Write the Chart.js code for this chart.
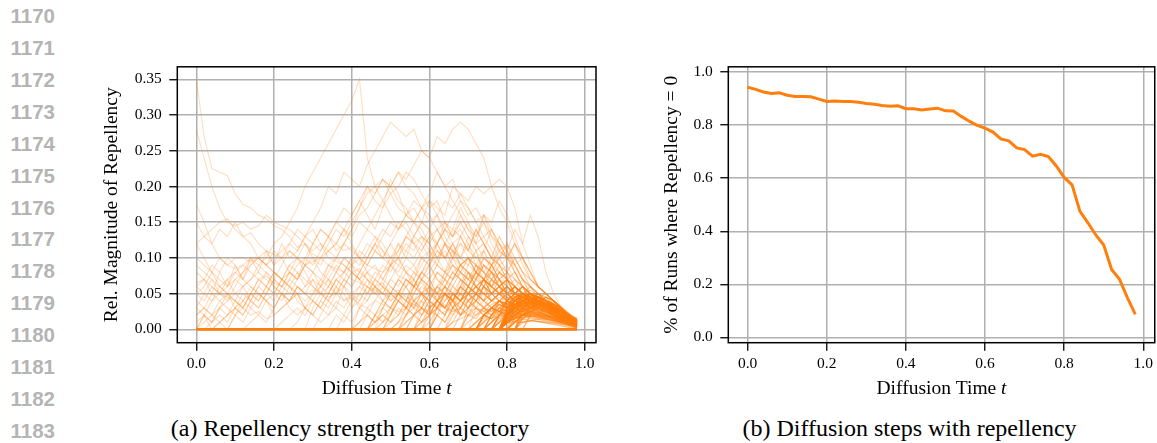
<!DOCTYPE html>
<html>
<head>
<meta charset="utf-8">
<script src="https://cdn.jsdelivr.net/npm/chart.js@4.4.1/dist/chart.umd.min.js"></script>
<style>
  body { margin: 0; width: 1157px; height: 443px; background: #fff; position: relative; overflow: hidden; }
  .ln { position: absolute; left: 0; width: 55px; text-align: right; font: bold 20.5px "Liberation Sans", Arial, sans-serif; line-height: 20.5px; color: #b4b4b4; }
  .cap { position: absolute; width: 500px; text-align: center; font: 24px "Liberation Serif", serif; line-height: 24px; color: #000; }
  canvas { position: absolute; }
</style>
</head>
<body>
<canvas id="left" width="520" height="360" style="left:90px; top:50px"></canvas>
<canvas id="right" width="517" height="360" style="left:640px; top:50px"></canvas>
<div class="cap" style="left:100px; top:416px">(a) Repellency strength per trajectory</div>
<div class="cap" style="left:659.5px; top:416px">(b) Diffusion steps with repellency</div>
<script>
// diffusion time grid shared by both panels
const times = [0.00, 0.02, 0.04, 0.06, 0.08, 0.10, 0.12, 0.14, 0.16, 0.18,
               0.20, 0.22, 0.24, 0.26, 0.28, 0.30, 0.32, 0.34, 0.36, 0.38,
               0.40, 0.42, 0.44, 0.46, 0.48, 0.50, 0.52, 0.54, 0.56, 0.58,
               0.60, 0.62, 0.64, 0.66, 0.68, 0.70, 0.72, 0.74, 0.76, 0.78,
               0.80, 0.82, 0.84, 0.86, 0.88, 0.90, 0.92, 0.94, 0.96, 0.98];

const xTicks = [0, 0.2, 0.4, 0.6, 0.8, 1.0];
const leftYTicks = [0, 0.05, 0.10, 0.15, 0.20, 0.25, 0.30, 0.35];
const rightYTicks = [0, 0.2, 0.4, 0.6, 0.8, 1.0];
const lineNumbers = [1170, 1171, 1172, 1173, 1174, 1175, 1176, 1177, 1178, 1179, 1180, 1181, 1182, 1183];

// runs whose repellency stays at 0 the whole time
const zeroRuns = [0, 0, 0, 0, 0, 0, 0, 0, 0, 0, 0, 0, 0, 0, 0, 0, 0, 0, 0, 0, 0, 0, 0, 0, 0,
                  0, 0, 0, 0, 0, 0, 0, 0, 0, 0, 0, 0, 0, 0, 0, 0, 0, 0, 0, 0, 0, 0, 0, 0, 0];

// every run ends at t = 0.98; shorter lists start later
const earlyRuns = [
  [.35,.27,.225,.22,.215,.19,.175,.17,.16,.155,.145,.14,.13,.115,.12,.105,.1,.09,.085,.08,.07,.065,.06,.055,.05,.045,.05,.04,.035,.04,.03,.035,.03,.025,.03,.02,.025,.03,.02,.025,.02,.03,.025,.02,.015,.02,.015,.012,.01,.008],
  [.28,.24,.2,.17,.15,.145,.15,.14,.145,.16,.15,.145,.14,.13,.12,.11,.12,.1,.095,.09,.08,.085,.07,.06,.065,.05,.055,.045,.04,.05,.04,.03,.035,.025,.03,.02,.02,.025,.02,.015,.02,.015,.02,.025,.02,.015,.012,.01,.008,.006],
  [.175,.15,.12,.1,.09,.085,.09,.08,.07,.075,.065,.06,.07,.06,.05,.055,.05,.045,.05,.04,.045,.035,.03,.04,.035,.03,.025,.03,.035,.03,.025,.02,.025,.03,.02,.025,.03,.02,.015,.02,.025,.03,.025,.02,.03,.02,.015,.012,.01,.008],
  [.12,.13,.14,.15,.155,.14,.13,.135,.12,.11,.105,.1,.11,.1,.09,.095,.1,.11,.12,.11,.115,.1,.09,.085,.08,.09,.075,.07,.06,.065,.05,.045,.05,.04,.035,.04,.03,.025,.03,.035,.03,.025,.02,.025,.02,.015,.012,.01,.008,.006],
  [.02,.03,.02,.04,.05,.04,.06,.07,.09,.1,.12,.13,.15,.17,.2,.22,.24,.26,.28,.3,.32,.35,.24,.2,.21,.19,.17,.16,.15,.13,.12,.1,.11,.09,.08,.07,.075,.06,.05,.055,.045,.04,.03,.035,.025,.02,.015,.012,.01,.008],
  [.05,.04,.06,.05,.07,.08,.07,.09,.1,.09,.11,.1,.12,.14,.13,.15,.17,.2,.19,.22,.21,.2,.23,.25,.27,.29,.28,.27,.28,.25,.24,.22,.2,.21,.18,.16,.17,.15,.13,.12,.1,.09,.07,.06,.05,.04,.03,.02,.012,.008],
  [.01,.02,.01,.03,.02,.04,.03,.05,.04,.06,.05,.07,.08,.07,.09,.1,.09,.11,.12,.14,.13,.15,.14,.16,.18,.2,.22,.21,.23,.25,.24,.27,.26,.28,.29,.28,.26,.24,.2,.17,.15,.12,.1,.08,.06,.05,.04,.025,.015,.008],
  [.06,.07,.05,.08,.06,.09,.07,.1,.08,.11,.09,.12,.1,.11,.13,.12,.14,.13,.15,.17,.16,.18,.2,.19,.21,.2,.22,.2,.19,.17,.18,.16,.18,.17,.19,.18,.2,.19,.2,.21,.2,.17,.12,.09,.06,.05,.04,.03,.015,.01],
  [.06,.05,.04,.06,.05,.03,.04,.05,.07,.06,.08,.07,.09,.08,.06,.07,.05,.06,.08,.1,.09,.11,.1,.12,.1,.09,.11,.13,.12,.1,.11,.09,.08,.1,.09,.07,.08,.06,.07,.05,.06,.05,.04,.05,.04,.03,.025,.02,.012,.006],
  [.1,.09,.08,.1,.09,.1,.1,.095,.1,.09,.08,.07,.06,.05,.04,.05,.06,.05,.07,.08,.09,.1,.12,.11,.13,.15,.14,.16,.18,.17,.15,.16,.14,.12,.13,.11,.1,.09,.08,.06,.07,.05,.06,.04,.05,.035,.03,.02,.01,.005],
  [.065,.07,.06,.05,.045,.04,.03,.02,.025,.015,.02,.03,.04,.05,.06,.08,.07,.09,.1,.12,.11,.1,.08,.09,.07,.06,.05,.07,.06,.08,.09,.07,.06,.05,.04,.05,.06,.05,.04,.05,.04,.045,.035,.04,.03,.025,.02,.015,.01,.006],
  [0,.02,.04,.05,.06,.07,.08,.09,.1,.09,.1,.11,.12,.11,.13,.14,.12,.11,.1,.09,.08,.07,.08,.06,.05,.04,.05,.03,.04,.02,.03,.04,.03,.02,.03,.04,.05,.04,.03,.04,.05,.04,.03,.035,.025,.02,.015,.012,.008,.005],
  [.03,.05,.07,.06,.05,.07,.06,.04,.03,.05,.04,.06,.05,.07,.09,.08,.1,.12,.14,.13,.15,.17,.2,.18,.17,.19,.2,.22,.21,.19,.17,.18,.15,.13,.14,.12,.1,.11,.09,.07,.08,.06,.05,.045,.04,.03,.025,.015,.01,.006],
  [.09,.08,.07,.05,.04,.06,.08,.1,.09,.08,.06,.05,.03,.02,.03,.05,.07,.06,.08,.07,.06,.08,.1,.12,.14,.13,.15,.14,.12,.13,.11,.12,.1,.08,.09,.1,.08,.07,.06,.05,.06,.05,.04,.035,.04,.03,.02,.015,.01,.005],
  [0,0,.01,.02,.01,.03,.02,.04,.03,.05,.07,.06,.08,.07,.1,.09,.11,.13,.12,.14,.12,.1,.09,.11,.1,.12,.14,.16,.17,.15,.18,.17,.16,.2,.19,.17,.15,.16,.13,.11,.1,.08,.06,.05,.04,.03,.025,.02,.012,.007],
  [.04,.03,.02,.03,.04,.05,.06,.07,.08,.07,.06,.05,.04,.05,.03,.04,.06,.08,.1,.12,.14,.16,.17,.19,.21,.2,.18,.17,.15,.17,.16,.14,.12,.14,.13,.15,.12,.1,.09,.08,.07,.06,.07,.05,.04,.035,.03,.02,.012,.006],
  [0,0,0,.01,0,.02,.01,.03,.02,.01,.03,.05,.04,.06,.05,.07,.06,.09,.08,.1,.09,.07,.06,.08,.07,.09,.1,.12,.11,.13,.12,.14,.15,.13,.16,.14,.13,.15,.12,.1,.11,.08,.07,.05,.04,.03,.02,.015,.01,.005],
  [.02,.03,.05,.04,.03,.02,.04,.06,.05,.04,.03,.05,.07,.09,.1,.12,.11,.13,.15,.14,.16,.18,.16,.14,.17,.21,.19,.16,.15,.17,.19,.22,.2,.18,.16,.14,.12,.13,.11,.09,.1,.08,.06,.05,.04,.035,.025,.02,.01,.005],
  [.12,.1,.08,.06,.07,.05,.04,.03,.05,.04,.02,.03,.04,.06,.05,.04,.03,.02,.04,.03,.05,.04,.06,.05,.07,.09,.08,.1,.09,.11,.13,.12,.14,.16,.18,.17,.15,.13,.14,.12,.1,.09,.07,.06,.05,.04,.03,.02,.012,.008],
  [0,.01,.02,.01,.02,.03,.02,.04,.06,.08,.07,.09,.11,.1,.12,.1,.08,.07,.09,.08,.1,.12,.14,.13,.11,.1,.12,.11,.13,.15,.14,.12,.1,.11,.09,.1,.08,.09,.07,.08,.06,.07,.05,.06,.045,.035,.03,.02,.012,.007],
  [0,.02,.01,.03,.05,.04,.03,.05,.07,.06,.05,.04,.06,.05,.03,.02,.04,.03,.05,.07,.06,.08,.07,.05,.06,.04,.05,.06,.07,.05,.06,.04,.05,.03,.04,.05,.04,.03,.04,.035,.04,.03,.035,.03,.025,.02,.015,.01,.006,.004],
  [.15,.13,.12,.14,.13,.15,.13,.12,.1,.11,.09,.1,.08,.07,.09,.08,.06,.07,.05,.06,.04,.05,.07,.06,.08,.1,.09,.11,.1,.12,.1,.09,.08,.07,.08,.06,.05,.06,.05,.04,.045,.035,.04,.03,.025,.02,.015,.01,.006,.004],
  [.05,.06,.08,.07,.06,.08,.09,.1,.1,.09,.08,.07,.06,.04,.03,.02,.01,.02,.03,.02,.04,.06,.05,.07,.09,.08,.1,.13,.12,.11,.13,.14,.12,.11,.1,.12,.09,.08,.07,.06,.05,.06,.05,.04,.035,.03,.02,.014,.008,.004],
  [.03,.02,0,.01,.02,.03,.05,.04,.06,.05,.07,.06,.08,.1,.09,.12,.14,.13,.11,.12,.14,.17,.19,.2,.18,.16,.14,.15,.13,.12,.14,.11,.1,.12,.09,.1,.08,.07,.06,.05,.06,.05,.04,.045,.035,.03,.022,.015,.008,.004],
  [.08,.07,.09,.08,.1,.09,.07,.06,.05,.04,.05,.07,.06,.08,.07,.06,.05,.04,.06,.05,.03,.04,.06,.05,.04,.06,.05,.07,.06,.08,.07,.05,.06,.04,.05,.04,.05,.04,.03,.04,.035,.03,.035,.03,.025,.02,.015,.01,.006,.004]
];

const midRuns = [
  [0,.02,.04,.03,.06,.08,.07,.09,.11,.1,.12,.1,.08,.09,.07,.08,.1,.12,.11,.09,.08,.06,.07,.05,.06,.05,.04,.05,.04,.03,.035,.025,.02,.012,.006],
  [0,.03,.05,.07,.06,.09,.12,.1,.13,.15,.14,.16,.13,.11,.12,.1,.09,.11,.08,.07,.06,.05,.06,.04,.045,.035,.03,.02,.012,.007],
  [0,.01,.02,.03,.02,.04,.03,.05,.07,.06,.08,.07,.05,.06,.04,.05,.07,.09,.08,.1,.09,.07,.06,.08,.07,.05,.06,.04,.05,.06,.05,.04,.05,.04,.035,.03,.022,.015,.009,.005],
  [0,.02,.05,.04,.07,.1,.09,.12,.15,.14,.17,.15,.13,.16,.14,.11,.12,.09,.1,.07,.06,.05,.04,.025,.015,.008],
  [0,.02,.01,.03,.05,.04,.06,.05,.07,.09,.08,.06,.07,.05,.06,.08,.07,.09,.1,.08,.07,.06,.05,.06,.045,.05,.04,.035,.03,.02,.014,.009,.005],
  [0,.03,.06,.05,.08,.11,.1,.13,.12,.16,.15,.18,.16,.13,.1,.08,.06,.05,.04,.03,.018,.009],
  [0,.01,.03,.02,.04,.06,.05,.07,.09,.08,.1,.12,.11,.09,.1,.08,.07,.09,.11,.1,.12,.1,.08,.07,.06,.07,.05,.06,.05,.04,.05,.045,.04,.03,.022,.014,.008,.004],
  [0,.02,.04,.03,.05,.04,.06,.08,.07,.05,.06,.04,.05,.07,.06,.05,.04,.05,.045,.04,.05,.04,.035,.03,.022,.015,.009,.005],
  [0,.03,.06,.09,.08,.11,.14,.12,.1,.12,.09,.07,.06,.05,.04,.025,.014,.007],
  [0,.01,.02,.04,.03,.05,.04,.06,.05,.04,.03,.05,.07,.06,.05,.06,.08,.07,.06,.05,.07,.06,.04,.05,.03,.04,.05,.04,.06,.05,.04,.05,.04,.045,.04,.035,.04,.03,.035,.028,.02,.013,.008,.004],
  [0,.02,.04,.06,.05,.08,.07,.1,.12,.11,.14,.12,.1,.08,.09,.07,.06,.05,.045,.04,.03,.02,.012,.006],
  [0,.03,.05,.04,.06,.08,.1,.09,.11,.13,.12,.1,.11,.13,.15,.14,.12,.1,.08,.09,.07,.06,.05,.06,.04,.05,.045,.04,.035,.04,.03,.025,.018,.012,.007,.004],
  [0,.02,.05,.04,.07,.06,.09,.08,.1,.09,.07,.06,.05,.045,.04,.035,.028,.02,.012,.006],
  [0,.03,.06,.09,.12,.11,.14,.12,.16,.13,.08,.05,.03,.015,.008],
  [0,.02,.03,.05,.04,.06,.08,.07,.09,.1,.08,.06,.05,.07,.06,.04,.05,.03,.04,.06,.05,.07,.06,.08,.07,.05,.06,.04,.05,.03,.04,.05,.04,.03,.04,.035,.03,.04,.035,.03,.025,.02,.014,.01,.006,.004],
  [0,.01,.03,.02,.04,.03,.05,.04,.06,.05,.04,.06,.07,.05,.06,.04,.05,.03,.04,.05,.04,.03,.04,.05,.04,.035,.03,.02,.012,.006],
  [0,.02,.01,.03,.02,.04,.06,.05,.07,.06,.04,.05,.03,.04,.06,.05,.07,.06,.05,.04,.05,.04,.03,.04,.035,.03,.04,.03,.025,.02,.014,.008],
  [0,.01,.02,.04,.03,.02,.03,.05,.04,.03,.05,.07,.06,.08,.07,.05,.04,.06,.05,.045,.04,.035,.03,.02,.011],
  [0,.03,.02,.04,.05,.03,.04,.02,.03,.05,.04,.06,.05,.07,.06,.04,.05,.03,.04,.03,.035,.04,.045,.04,.03,.02,.01],
  [0,.01,.02,.01,.03,.02,.04,.03,.02,.04,.05,.03,.04,.06,.05,.04,.03,.04,.05,.04,.03,.035,.04,.035,.03,.025,.018,.009],
  [0,.02,.04,.06,.05,.07,.09,.08,.06,.07,.05,.06,.04,.05,.03,.04,.045,.04,.035,.03,.02,.012],
  [0,.01,.02,.03,.02,.01,.02,.04,.03,.05,.04,.03,.02,.03,.04,.05,.04,.06,.05,.04,.05,.045,.04,.03,.02,.01],
  [0,.02,.03,.05,.04,.03,.05,.07,.06,.05,.03,.04,.02,.03,.04,.03,.05,.04,.03,.04,.05,.045,.04,.038,.03,.022,.013,.007],
  [0,.01,.03,.02,.04,.06,.05,.08,.07,.1,.09,.07,.08,.06,.05,.04,.05,.04,.035,.03,.022,.012],
  [0,.02,.01,.02,.03,.02,.04,.03,.05,.04,.03,.04,.05,.04,.05,.06,.05,.04,.05,.04,.03,.04,.035,.045,.04,.035,.025,.015,.007],
  [0,.03,.05,.04,.06,.05,.03,.04,.06,.08,.07,.05,.06,.04,.05,.04,.045,.04,.03,.02,.01],
  [0,.01,.02,.01,.02,.04,.03,.02,.04,.03,.05,.04,.06,.05,.03,.04,.05,.06,.05,.04,.035,.04,.03,.035,.028,.02,.013,.006],
  [0,.02,.04,.03,.05,.04,.02,.03,.05,.04,.06,.05,.07,.06,.04,.05,.045,.05,.04,.032,.022,.012],
  [0,.01,.02,.03,.05,.04,.03,.04,.02,.03,.04,.03,.02,.03,.04,.05,.04,.03,.04,.045,.04,.03,.02,.01],
  [0,.02,.01,.03,.04,.06,.05,.04,.06,.05,.07,.06,.08,.07,.06,.05,.06,.045,.05,.04,.03,.02,.011]
];

const lateRuns = [
  [0,.01,.02,.015,.03,.025,.04,.035,.045,.04,.035,.03,.02,.012,.006],
  [0,.02,.01,.03,.05,.04,.06,.05,.04,.05,.06,.045,.05,.04,.045,.035,.03,.02,.015,.008],
  [0,.01,.03,.02,.04,.05,.045,.04,.038,.03,.02,.01],
  [0,.01,.03,.02,.04,.06,.05,.07,.06,.08,.07,.09,.08,.06,.07,.05,.06,.05,.045,.04,.035,.03,.022,.014,.007],
  [0,.02,.04,.03,.05,.07,.06,.05,.04,.06,.05,.04,.045,.04,.03,.025,.015,.009],
  [0,.015,.03,.025,.04,.035,.03,.022,.015,.008],
  [0,.01,.02,.04,.03,.05,.04,.06,.08,.07,.09,.1,.08,.07,.06,.05,.045,.04,.03,.02,.012,.006],
  [0,.02,.015,.03,.04,.03,.05,.045,.04,.035,.03,.025,.018,.01],
  [0,.01,.02,.01,.03,.05,.04,.06,.08,.07,.09,.11,.1,.12,.1,.09,.11,.08,.07,.06,.07,.05,.06,.04,.045,.035,.03,.02,.012,.007],
  [0,.01,.02,.03,.025,.035,.03,.045,.04,.05,.045,.04,.032,.025,.015,.008],
  [0,.03,.02,.04,.06,.05,.07,.09,.08,.1,.12,.1,.08,.06,.05,.04,.035,.025,.016,.009],
  [0,.01,.02,.03,.035,.03,.04,.035,.03,.022,.014,.006],
  [0,.02,.04,.03,.06,.05,.07,.09,.12,.1,.13,.11,.14,.12,.1,.13,.11,.09,.07,.06,.05,.04,.03,.02,.012,.006],
  [0,.02,.03,.04,.035,.03,.02,.014,.007],
  [0,.01,.015,.02,.03,.025,.035,.04,.03,.045,.05,.04,.042,.038,.03,.022,.014,.008],
  [0,.02,.03,.05,.04,.06,.05,.07,.09,.08,.06,.07,.05,.06,.04,.05,.045,.04,.035,.03,.025,.018,.011,.005],
  [0,.01,.02,.02,.03,.04,.035,.045,.04,.035,.025,.016,.01],
  [0,.02,.01,.03,.05,.07,.06,.08,.1,.12,.14,.13,.15,.13,.11,.12,.1,.09,.07,.08,.06,.05,.045,.04,.03,.02,.012,.006],
  [0,.015,.025,.02,.03,.04,.035,.03,.024,.016,.01],
  [0,.02,.04,.05,.07,.06,.08,.07,.06,.05,.055,.045,.04,.03,.022,.015,.008],
  [0,.01,.03,.02,.04,.03,.05,.06,.05,.07,.06,.05,.04,.05,.045,.04,.034,.028,.02,.013,.007],
  [0,.02,.035,.03,.025,.018,.012,.006],
  [0,.02,.05,.04,.06,.08,.07,.09,.11,.1,.12,.1,.08,.06,.05,.04,.03,.018,.01],
  [0,.01,.02,.015,.025,.03,.035,.03,.04,.045,.04,.032,.024,.015,.009],
  [0,.02,.03,.02,.04,.03,.05,.04,.06,.05,.07,.06,.05,.06,.05,.045,.05,.04,.035,.028,.02,.012,.006],
  [0,.02,.04,.03,.05,.045,.04,.045,.035,.028,.018,.01],
  [0,.03,.05,.04,.07,.09,.08,.1,.08,.07,.06,.05,.04,.03,.018,.009],
  [0,.01,.02,.035,.03,.04,.03,.025,.017,.01],
  [0,.01,.02,.04,.03,.05,.07,.06,.08,.07,.09,.08,.1,.09,.07,.08,.06,.07,.05,.06,.045,.05,.04,.03,.02,.012,.005],
  [0,.015,.03,.025,.04,.05,.045,.05,.045,.04,.035,.025,.016,.008],
  [0,.02,.01,.03,.02,.04,.03,.02,.03,.04,.03,.035,.03,.04,.035,.03,.025,.018,.012,.006],
  [0,.02,.03,.025,.035,.04,.038,.033,.025,.017,.011],
  [0,.01,.03,.05,.04,.06,.05,.04,.05,.06,.05,.048,.044,.04,.03,.02,.012,.007],
  [0,.015,.025,.03,.028,.025,.02,.013,.008],
  [0,.01,.02,.03,.05,.04,.06,.08,.07,.06,.08,.1,.09,.07,.05,.06,.05,.045,.04,.035,.028,.02,.012,.006],
  [0,.02,.03,.04,.05,.045,.05,.045,.04,.032,.024,.015,.009],
  [0,.02,.04,.06,.05,.07,.06,.05,.06,.05,.04,.035,.03,.02,.012,.006],
  [0,.01,.02,.025,.03,.035,.03,.022,.015,.009],
  [0,.02,.03,.05,.04,.06,.08,.07,.09,.08,.06,.07,.05,.06,.05,.04,.035,.03,.02,.012,.007],
  [0,.02,.04,.035,.045,.05,.044,.04,.035,.026,.017,.01],
  [0,.02,.03,.045,.04,.05,.04,.035,.03,.022,.013],
  [0,.01,.025,.02,.035,.04,.045,.04,.042,.036,.03,.02,.012],
  [0,.03,.04,.035,.045,.04,.03,.02,.01],
  [0,.01,.02,.03,.025,.04,.035,.03,.04,.045,.04,.035,.026,.017,.008],
  [0,.02,.04,.03,.035,.028,.02,.011],
  [0,.015,.03,.04,.05,.045,.04,.036,.03,.024,.016,.009],
  [0,.02,.03,.025,.035,.045,.04,.048,.044,.038,.03,.02,.012,.004],
  [0,.01,.02,.015,.025,.02,.03,.028,.022,.015,.008],
  [0,.02,.04,.05,.045,.04,.045,.04,.035,.028,.02,.013],
  [0,.01,.03,.025,.02,.03,.04,.035,.04,.033,.025,.017,.01,.003],
  [0,.025,.04,.035,.03,.025,.02,.014,.007],
  [0,.02,.03,.04,.035,.045,.05,.045,.04,.035,.03,.022,.015,.01],
  [0,.01,.015,.025,.02,.03,.035,.03,.025,.018,.011,.005],
  [0,.03,.05,.045,.04,.05,.045,.04,.03,.02,.012],
  [0,.02,.015,.03,.025,.04,.035,.045,.04,.03,.036,.03,.024,.016,.008,.002],
  [0,.01,.02,.03,.04,.036,.03,.022,.014,.006],
  [0,.02,.035,.03,.04,.045,.04,.035,.038,.032,.025,.018,.011],
  [0,.015,.02,.03,.025,.035,.03,.026,.02,.012,.004],
  [0,.02,.04,.035,.03,.04,.045,.04,.034,.028,.02,.013,.007],
  [0,.01,.025,.04,.05,.046,.04,.032,.024,.015,.008],
  [0,.02,.03,.02,.03,.035,.03,.025,.03,.026,.02,.015,.009,.003],
  [0,.03,.045,.04,.035,.03,.024,.016,.01],
  [0,.01,.02,.03,.04,.035,.042,.038,.034,.03,.022,.014,.006],
  [0,.02,.03,.04,.03,.025,.035,.04,.036,.03,.024,.018,.012,.005],
  [0,.015,.03,.045,.04,.035,.028,.02,.012],
  [0,.01,.02,.018,.028,.025,.032,.03,.026,.02,.014,.008,.002],
  [0,.02,.03,.025,.04,.05,.045,.04,.045,.04,.033,.026,.018,.01],
  [0,.02,.03,.035,.032,.028,.02,.013,.006],
  [0,.01,.02,.035,.03,.04,.045,.04,.042,.036,.028,.02,.012,.005],
  [0,.025,.04,.038,.045,.04,.036,.03,.022,.014,.007],
  [0,.01,.02,.03,.025,.035,.04,.035,.03,.026,.02,.013,.006,.002],
  [0,.02,.04,.035,.042,.048,.045,.04,.035,.03,.022,.015,.009],
  [0,.015,.025,.03,.04,.036,.032,.026,.02,.013,.007],
  [0,.02,.035,.03,.04,.035,.038,.032,.026,.019,.012,.004],
  [0,.03,.04,.05,.044,.04,.035,.028,.02,.012],
  [0,.01,.02,.025,.035,.03,.04,.036,.031,.025,.018,.011,.005],
  [0,.02,.03,.045,.04,.035,.04,.034,.028,.021,.014,.008],
  [0,.015,.03,.028,.035,.03,.025,.018,.01,.003],
  [0,.02,.04,.045,.05,.045,.04,.034,.027,.02,.012],
  [0,.01,.025,.03,.04,.038,.033,.027,.02,.014,.007,.002]
];

// the last stretch where most runs still repel a little
const tailRuns = [
  [0,.02,.035,.04,.038,.034,.03,.026,.021,.017,.013],
  [0,.015,.03,.028,.032,.03,.027,.024,.02,.016,.012],
  [0,.01,.02,.025,.03,.027,.024,.02,.017,.014,.011],
  [0,.02,.03,.04,.045,.04,.036,.031,.026,.021,.015],
  [0,.01,.015,.02,.022,.02,.018,.016,.014,.012,.01],
  [0,.025,.04,.045,.042,.038,.033,.028,.022,.017,.012],
  [0,.01,.02,.018,.02,.018,.016,.013,.011,.009],
  [0,.02,.03,.035,.033,.03,.026,.022,.018,.014,.011],
  [0,.015,.025,.03,.035,.032,.028,.024,.019,.015,.01],
  [0,.01,.012,.015,.014,.012,.01,.008,.006],
  [0,.03,.045,.05,.046,.04,.035,.03,.024,.018,.013],
  [0,.02,.025,.028,.026,.023,.02,.017,.014,.011,.008],
  [0,.01,.02,.03,.04,.037,.033,.029,.024,.02,.014],
  [0,.015,.02,.018,.016,.014,.012,.01,.007],
  [0,.02,.035,.045,.043,.039,.034,.029,.024,.019,.013],
  [0,.01,.015,.02,.018,.017,.015,.013,.01,.008,.006],
  [0,.025,.035,.04,.036,.032,.028,.024,.02,.016,.012],
  [0,.01,.02,.022,.025,.023,.021,.018,.015,.012,.009],
  [0,.02,.03,.038,.042,.04,.036,.031,.025,.02,.014],
  [0,.01,.01,.012,.011,.01,.009,.007,.005,.004],
  [0,.02,.03,.033,.03,.027,.024,.02,.016,.012,.009],
  [0,.015,.025,.035,.038,.034,.03,.026,.021,.016,.011],
  [0,.01,.02,.025,.022,.02,.018,.015,.012,.009,.007],
  [0,.02,.04,.048,.045,.04,.035,.03,.025,.019,.013],
  [0,.01,.015,.017,.016,.014,.012,.01,.008,.006,.003],
  [0,.02,.028,.032,.036,.033,.03,.026,.021,.016,.012],
  [0,.015,.022,.026,.024,.021,.018,.015,.012,.009,.006],
  [0,.02,.033,.04,.038,.035,.031,.027,.022,.017,.012],
  [0,.01,.018,.02,.019,.017,.014,.012,.009,.007,.005],
  [0,.025,.04,.043,.04,.036,.032,.027,.022,.017,.012],
  [0,.012,.02,.028,.03,.028,.025,.021,.017,.013,.009],
  [0,.018,.03,.034,.032,.029,.026,.022,.018,.014,.01],
  [0,.01,.016,.02,.024,.022,.02,.017,.014,.011,.008],
  [0,.02,.035,.042,.04,.037,.033,.028,.023,.018,.013],
  [0,.008,.012,.014,.013,.011,.009,.007,.005,.003,.002],
  [0,.015,.025,.03,.028,.026,.023,.019,.015,.011,.007],
  [0,.02,.03,.036,.04,.038,.034,.029,.024,.019,.014],
  [0,.01,.018,.022,.021,.019,.016,.013,.01,.007,.004],
  [0,.02,.032,.037,.035,.031,.027,.023,.019,.015,.011],
  [0,.012,.022,.027,.026,.024,.021,.018,.014,.01,.006]
];

// share of runs where repellency = 0, per diffusion step
const shareZero = [0.943, 0.935, 0.925, 0.919, 0.922, 0.913, 0.908, 0.908, 0.907, 0.898,
                   0.889, 0.891, 0.889, 0.889, 0.886, 0.882, 0.879, 0.874, 0.871, 0.873,
                   0.862, 0.862, 0.857, 0.861, 0.864, 0.854, 0.853, 0.833, 0.815, 0.799,
                   0.789, 0.774, 0.748, 0.741, 0.714, 0.708, 0.683, 0.690, 0.682, 0.646,
                   0.603, 0.575, 0.475, 0.432, 0.386, 0.348, 0.256, 0.219, 0.149, 0.087];

const SERIF = '"Liberation Serif", "Times New Roman", serif';
const ORANGE = '#ff7f0e';
Chart.defaults.font.family = SERIF;
Chart.defaults.color = '#000';

lineNumbers.forEach((n, i) => {
  const d = document.createElement('div');
  d.className = 'ln';
  d.style.top = (6.3 + i * 31.88) + 'px';
  d.textContent = n;
  document.body.appendChild(d);
});

// values are aligned so the last one sits at the last time step
function toPoints(vals) {
  const start = times.length - vals.length;
  return vals.map((v, i) => ({ x: times[start + i], y: v })).filter(p => p.x !== undefined);
}

const frame = {
  id: 'frame',
  afterDraw(chart) {
    const { ctx, chartArea: a } = chart;
    ctx.save();
    ctx.strokeStyle = '#000';
    ctx.lineWidth = 1.5;
    ctx.strokeRect(a.left, a.top, a.right - a.left, a.bottom - a.top);
    ctx.restore();
  }
};

// x title with italic t
const xTitle = {
  id: 'xTitle',
  afterDraw(chart) {
    const { ctx, chartArea: a } = chart;
    const plain = 'Diffusion Time ', it = 't';
    ctx.save();
    ctx.fillStyle = '#000';
    ctx.textBaseline = 'alphabetic';
    ctx.textAlign = 'left';
    ctx.font = '19.5px ' + SERIF;
    const w1 = ctx.measureText(plain).width;
    ctx.font = 'italic 19.5px ' + SERIF;
    const w2 = ctx.measureText(it).width;
    let x = (a.left + a.right) / 2 - (w1 + w2) / 2;
    const y = a.bottom + 51.3;
    ctx.font = '19.5px ' + SERIF;
    ctx.fillText(plain, x, y);
    ctx.font = 'italic 19.5px ' + SERIF;
    ctx.fillText(it, x + w1, y);
    ctx.restore();
  }
};

function xAxis() {
  return {
    type: 'linear', min: -0.049, max: 1.029,
    afterBuildTicks: s => { s.ticks = xTicks.map(v => ({ value: v })); },
    afterFit: s => { s.height = 67.3; },
    ticks: { autoSkip: false, maxRotation: 0, padding: 4, color: '#000',
             font: { size: 15.5 }, callback: v => v.toFixed(1) },
    grid: { color: '#b0b0b0', lineWidth: 1.5, tickColor: '#000', tickLength: 8, tickWidth: 1.3 },
    border: { display: false }
  };
}

function yAxis(ticks, min, max, digits, width, label, titlePad) {
  return {
    type: 'linear', min: min, max: max,
    afterBuildTicks: s => { s.ticks = ticks.map(v => ({ value: v })); },
    afterFit: s => { s.width = width; },
    ticks: { autoSkip: false, padding: 7.5, color: '#000',
             font: { size: 15.5 }, callback: v => v.toFixed(digits) },
    grid: { color: '#b0b0b0', lineWidth: 1.5, tickColor: '#000', tickLength: 8, tickWidth: 1.3 },
    border: { display: false },
    title: { display: true, text: label, color: '#000', font: { size: 19.5 },
             padding: { top: titlePad, bottom: 0 } }
  };
}

function runSet(r, alpha, width) {
  return {
    data: toPoints(r),
    borderColor: 'rgba(255,127,14,' + alpha + ')',
    borderWidth: width,
    pointRadius: 0,
    tension: 0
  };
}

const runSets = [
  ...earlyRuns.map(r => runSet(r, 0.26, 1.1)),
  ...midRuns.map(r => runSet(r, 0.26, 1.1)),
  ...lateRuns.map(r => runSet(r, 0.36, 1.2)),
  ...tailRuns.map(r => runSet(r, 0.5, 1.4))
];

new Chart(document.getElementById('left'), {
  type: 'line',
  data: {
    datasets: [{ data: toPoints(zeroRuns), borderColor: ORANGE, borderWidth: 2.6, pointRadius: 0 }, ...runSets]
  },
  options: {
    responsive: false, animation: false, devicePixelRatio: 1,
    layout: { padding: { left: 0, top: 14, right: 14, bottom: 0 } },
    plugins: { legend: { display: false }, tooltip: { enabled: false } },
    scales: {
      x: xAxis(),
      y: yAxis(leftYTicks, -0.0186, 0.3675, 2, 87.3, 'Rel. Magnitude of Repellency', 10)
    }
  },
  plugins: [frame, xTitle]
});

new Chart(document.getElementById('right'), {
  type: 'line',
  data: {
    datasets: [{ data: toPoints(shareZero), borderColor: ORANGE, borderWidth: 3, pointRadius: 0, tension: 0 }]
  },
  options: {
    responsive: false, animation: false, devicePixelRatio: 1,
    layout: { padding: { left: 0, top: 14, right: 1.3, bottom: 0 } },
    plugins: { legend: { display: false }, tooltip: { enabled: false } },
    scales: {
      x: xAxis(),
      y: yAxis(rightYTicks, -0.02, 1.02, 1, 88.3, '% of Runs where Repellency = 0', 20)
    }
  },
  plugins: [frame, xTitle]
});
</script>
</body>
</html>
